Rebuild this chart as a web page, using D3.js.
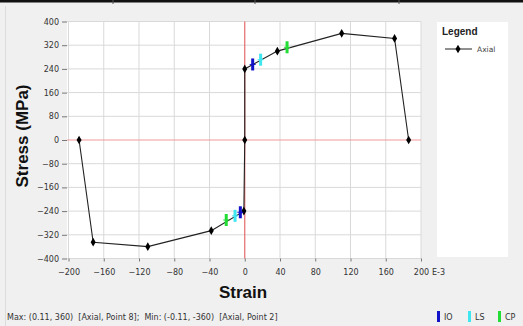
<!DOCTYPE html>
<html>
<head>
<meta charset="utf-8">
<script src="https://cdn.jsdelivr.net/npm/d3@7"></script>
<style>
  html, body { margin: 0; padding: 0; background: #f0f0f0; }
  svg { display: block; font-family: "Liberation Sans", Arial, sans-serif; }
</style>
</head>
<body>
<svg id="chart" width="523" height="326"></svg>
<script>
// axial curve, strain in E-3, stress in MPa
const strain = [-188, -172, -110, -38, -1, 0, 0, 37, 110, 170, 186];
const stress = [0, -345, -360, -306, -240, 0, 240, 300, 360, 343, 0];

// performance level markers
const hingeNames = ["IO", "LS", "CP", "IO", "LS", "CP"];
const hingeStrain = [9, 18, 48, -5, -11, -21];
const hingeStress = [255, 271, 313, -244, -256, -270];
const hingeColor = { IO: "#1212c8", LS: "#3ee6f0", CP: "#22dd33" };

const xTicks = [-200, -160, -120, -80, -40, 0, 40, 80, 120, 160, 200];
const yTicks = [400, 320, 240, 160, 80, 0, -80, -160, -240, -320, -400];

const svg = d3.select("#chart");

const x = d3.scaleLinear().domain([-200, 200]).range([68.5, 421]);
const y = d3.scaleLinear().domain([-400, 400]).range([258.5, 21.5]);

// top border piece
svg.append("rect").attr("x", 0).attr("y", 0).attr("width", 523).attr("height", 2.5).attr("fill", "#111");
[113, 255, 399].forEach(px => {
  svg.append("line").attr("x1", px).attr("x2", px).attr("y1", 0).attr("y2", 4)
    .attr("stroke", "#555").attr("stroke-width", 1);
});
svg.append("line").attr("x1", 5.5).attr("x2", 5.5).attr("y1", 6).attr("y2", 326)
  .attr("stroke", "#dcdcdc");

// plot area
svg.append("rect").attr("x", 67).attr("y", 21.5).attr("width", 354).attr("height", 237)
  .attr("fill", "#fff");

const grid = svg.append("g");
grid.selectAll("line.v").data(xTicks).join("line")
  .attr("x1", d => x(d)).attr("x2", d => x(d))
  .attr("y1", y(400)).attr("y2", y(-400))
  .attr("stroke", d => d === 0 ? "none" : "#d9d9d9").attr("stroke-width", 1);
grid.selectAll("line.h").data(yTicks).join("line")
  .attr("x1", 67).attr("x2", 421)
  .attr("y1", d => y(d)).attr("y2", d => y(d))
  .attr("stroke", d => d === 0 ? "none" : "#d9d9d9").attr("stroke-width", 1);

// zero lines
svg.append("line").attr("x1", 67).attr("x2", 421).attr("y1", y(0)).attr("y2", y(0))
  .attr("stroke", "#f29a9a").attr("stroke-width", 1.2);
svg.append("line").attr("x1", x(0)).attr("x2", x(0)).attr("y1", y(400)).attr("y2", y(-400))
  .attr("stroke", "#e46a6a").attr("stroke-width", 1.2);

// axes
const xAxis = d3.axisBottom(x).tickValues(xTicks).tickSize(3).tickPadding(6);
const yAxis = d3.axisLeft(y).tickValues(yTicks).tickSize(5).tickPadding(3);

const gx = svg.append("g").attr("transform", `translate(0,${y(-400)})`).call(xAxis);
const gy = svg.append("g").attr("transform", `translate(67,0)`).call(yAxis);
[gx, gy].forEach(g => {
  g.select(".domain").remove();
  g.selectAll(".tick line").attr("stroke", "#777");
  g.selectAll(".tick text").attr("fill", "#333")
    .attr("font-family", "'DejaVu Sans', sans-serif").style("font-size", "8px");
});
gx.selectAll(".tick text").attr("dy", "0.9em");

svg.append("text").attr("x", 432).attr("y", 258.5 + 9 + 7.2).attr("fill", "#333")
  .attr("font-family", "'DejaVu Sans', sans-serif").attr("font-size", 8).text("E-3");

// axis titles
svg.append("text").attr("x", 243).attr("y", 298).attr("text-anchor", "middle")
  .attr("font-weight", "bold").attr("font-size", 17).attr("fill", "#111").text("Strain");
svg.append("text").attr("transform", "translate(28,136) rotate(-90)").attr("text-anchor", "middle")
  .attr("font-weight", "bold").attr("font-size", 17).attr("fill", "#111").text("Stress (MPa)");

// curve
const pts = strain.map((s, i) => [s, stress[i]]);
const line = d3.line().x(d => x(d[0])).y(d => y(d[1]));
svg.append("path").datum(pts).attr("d", line).attr("fill", "none")
  .attr("stroke", "#222").attr("stroke-width", 1.1);

const diamond = d3.symbol().type(d3.symbolDiamond).size(22);
svg.selectAll("path.pt").data(pts).join("path").attr("class", "pt")
  .attr("transform", d => `translate(${x(d[0])},${y(d[1])})`)
  .attr("d", diamond).attr("fill", "#000");

// hinge markers
hingeNames.forEach((n, i) => {
  const cx = x(hingeStrain[i]), cy = y(hingeStress[i]);
  svg.append("rect").attr("x", cx - 1.5).attr("y", cy - 6).attr("width", 3).attr("height", 12)
    .attr("fill", hingeColor[n]);
  svg.append("line").attr("x1", cx - 3).attr("x2", cx + 3).attr("y1", cy).attr("y2", cy)
    .attr("stroke", hingeColor[n]).attr("stroke-width", 1);
});

// legend box
svg.append("rect").attr("x", 437).attr("y", 22).attr("width", 71).attr("height", 235).attr("fill", "#fff");
svg.append("text").attr("x", 442).attr("y", 35).attr("font-weight", "bold").attr("font-size", 10)
  .attr("fill", "#222").text("Legend");
svg.append("line").attr("x1", 445).attr("x2", 472).attr("y1", 49).attr("y2", 49)
  .attr("stroke", "#222").attr("stroke-width", 1);
svg.append("path").attr("transform", "translate(458,49)").attr("d", diamond).attr("fill", "#000");
svg.append("text").attr("x", 477).attr("y", 52).attr("font-size", 7.5)
  .attr("font-family", "'DejaVu Sans', sans-serif").attr("fill", "#444").text("Axial");

// status line
svg.append("text").attr("x", 7).attr("y", 320).attr("font-size", 8)
  .attr("font-family", "'DejaVu Sans', sans-serif").attr("fill", "#333")
  .attr("xml:space", "preserve")
  .text("Max: (0.11, 360)  [Axial, Point 8];  Min: (-0.11, -360)  [Axial, Point 2]");

// bottom key
const keyX = [437, 468, 498];
["IO", "LS", "CP"].forEach((n, i) => {
  svg.append("rect").attr("x", keyX[i]).attr("y", 311).attr("width", 3).attr("height", 11)
    .attr("fill", hingeColor[n]);
  svg.append("text").attr("x", keyX[i] + 7).attr("y", 320).attr("font-size", 8)
    .attr("font-family", "'DejaVu Sans', sans-serif").attr("fill", "#333").text(n);
});
</script>
</body>
</html>
